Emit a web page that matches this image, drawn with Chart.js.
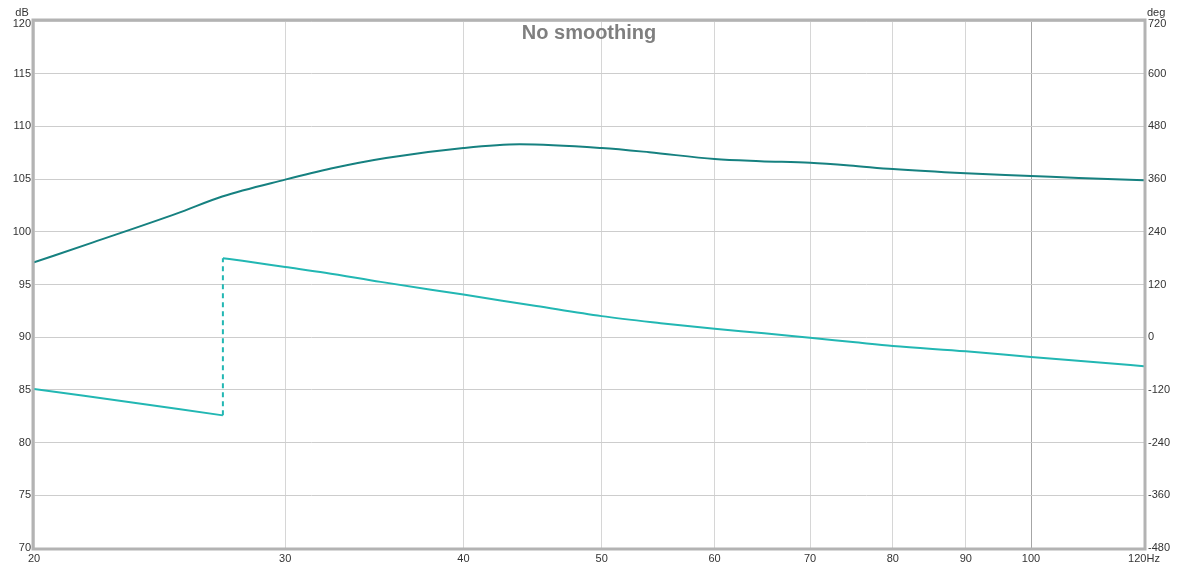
<!DOCTYPE html>
<html>
<head>
<meta charset="utf-8">
<script src="https://cdn.jsdelivr.net/npm/chart.js@4.4.1/dist/chart.umd.min.js"></script>
<style>
  html, body { margin: 0; padding: 0; background: #fff; }
  #wrap { width: 1179px; height: 564px; }
</style>
</head>
<body>
<div id="wrap"><canvas id="chart"></canvas></div>
<script>
// SPL trace (dB)
const freqSpl = [20, 22, 25.2, 27.1, 30, 32.3, 35.3, 40, 43.8, 50, 54, 60, 64.6, 70, 74.6, 80, 90, 100, 108, 120];
const splDb = [97.1, 99.0, 101.75, 103.35, 104.95, 106.0, 107.0, 107.95, 108.3, 107.95, 107.55, 106.9, 106.7, 106.55, 106.3, 105.95, 105.55, 105.3, 105.1, 104.9];

// phase trace (deg), wraps from -180 to +180 around 27 Hz
const freqPhaseLow = [20, 23.5, 27.13];
const phaseLow = [-118, -149, -178];
const freqPhaseHigh = [27.13, 28, 30, 32, 35, 40, 45, 50, 55, 60, 65, 70, 75, 80, 90, 100, 110, 120];
const phaseHigh = [180, 174, 160, 147, 126, 97, 71, 48, 32, 19, 9, -1.5, -11, -20, -32, -45, -56, -66];

// axis ticks
const freqTicks = [20, 30, 40, 50, 60, 70, 80, 90, 100, 120];
const dbTicks = [70, 75, 80, 85, 90, 95, 100, 105, 110, 115, 120];
const degTicks = [-480, -360, -240, -120, 0, 120, 240, 360, 480, 600, 720];

const chartTitle = "No smoothing";

const tickFont = { family: "'Liberation Sans', Arial, sans-serif", size: 11 };
const tickColor = "#333";
const phaseColor = "#22b7b3";

const toPoints = (xs, ys) => xs.map((x, i) => ({ x: x, y: ys[i] }));

// frame, units, the top tick labels (pushed down under the units) and the title
const decorPlugin = {
  id: "decor",
  afterDraw(chart) {
    const ctx = chart.ctx;
    const a = chart.chartArea;
    ctx.save();
    ctx.strokeStyle = "#b3b3b3";
    ctx.lineWidth = 3;
    ctx.strokeRect(a.left - 1, a.top - 1, a.right - a.left + 2, a.bottom - a.top + 2);

    ctx.fillStyle = tickColor;
    ctx.font = "11px 'Liberation Sans', Arial, sans-serif";
    ctx.textBaseline = "alphabetic";
    ctx.textAlign = "center";
    ctx.fillText("dB", 22, 16);
    ctx.textAlign = "right";
    ctx.fillText(String(dbTicks[dbTicks.length - 1]), a.left - 3, 27);
    ctx.textAlign = "left";
    ctx.fillText("deg", 1147, 16);
    ctx.fillText(String(degTicks[degTicks.length - 1]), a.right + 4, 27);

    ctx.fillStyle = "#7f7f7f";
    ctx.font = "bold 20px 'Liberation Sans', Arial, sans-serif";
    ctx.textAlign = "center";
    ctx.fillText(chartTitle, (a.left + a.right) / 2, 39);
    ctx.restore();
  }
};

new Chart(document.getElementById("chart"), {
  type: "line",
  data: {
    datasets: [
      {
        label: "SPL",
        data: toPoints(freqSpl, splDb),
        borderColor: "#168180",
        borderWidth: 2,
        pointRadius: 0,
        cubicInterpolationMode: "monotone",
        yAxisID: "y"
      },
      {
        label: "Phase",
        data: toPoints(freqPhaseLow, phaseLow),
        borderColor: phaseColor,
        borderWidth: 2,
        pointRadius: 0,
        tension: 0.3,
        yAxisID: "y2"
      },
      {
        label: "Phase wrap",
        data: [
          { x: freqPhaseLow[freqPhaseLow.length - 1], y: phaseLow[phaseLow.length - 1] },
          { x: freqPhaseHigh[0], y: phaseHigh[0] }
        ],
        borderColor: phaseColor,
        borderWidth: 2,
        borderDash: [5, 4],
        pointRadius: 0,
        yAxisID: "y2"
      },
      {
        label: "Phase ",
        data: toPoints(freqPhaseHigh, phaseHigh),
        borderColor: phaseColor,
        borderWidth: 2,
        pointRadius: 0,
        cubicInterpolationMode: "monotone",
        yAxisID: "y2"
      }
    ]
  },
  options: {
    responsive: true,
    maintainAspectRatio: false,
    animation: false,
    events: [],
    layout: { padding: { top: 21, left: 0, right: 0, bottom: 0 } },
    plugins: { legend: { display: false }, tooltip: { enabled: false } },
    scales: {
      x: {
        type: "logarithmic",
        min: 20,
        max: 120,
        afterBuildTicks: s => { s.ticks = freqTicks.map(v => ({ value: v })); },
        afterFit: s => { s.height = 16; },
        grid: {
          color: c => c.tick && c.tick.value === 100 ? "#a6a6a6" : "#d6d6d6",
          lineWidth: 1,
          drawTicks: false
        },
        border: { display: false },
        ticks: {
          font: tickFont,
          color: tickColor,
          padding: 4,
          maxRotation: 0,
          autoSkip: false,
          callback: v => v === 120 ? "120Hz" : String(v)
        }
      },
      y: {
        position: "left",
        min: 70,
        max: 120,
        afterBuildTicks: s => { s.ticks = dbTicks.map(v => ({ value: v })); },
        afterFit: s => { s.width = 34; },
        grid: { color: "#cdcdcd", drawTicks: false },
        border: { display: false },
        ticks: {
          font: tickFont, color: tickColor, padding: 3,
          callback: v => v === 120 ? "" : String(v)
        }
      },
      y2: {
        position: "right",
        min: -480,
        max: 720,
        afterBuildTicks: s => { s.ticks = degTicks.map(v => ({ value: v })); },
        afterFit: s => { s.width = 35; },
        grid: { display: false, drawTicks: false },
        border: { display: false },
        ticks: {
          font: tickFont, color: tickColor, padding: 4,
          callback: v => v === 720 ? "" : String(v)
        }
      }
    }
  },
  plugins: [decorPlugin]
});
</script>
</body>
</html>
